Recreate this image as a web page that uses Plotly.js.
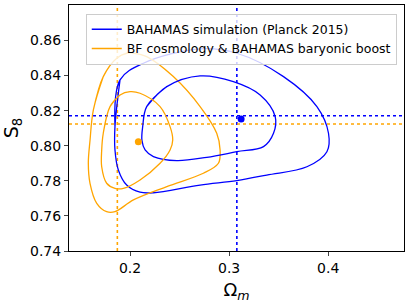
<!DOCTYPE html>
<html><head><meta charset="utf-8">
<script src="https://cdn.plot.ly/plotly-3.0.1.min.js"></script>
<style>html,body{margin:0;padding:0;background:#fff}#c{width:411px;height:307px}</style>
</head><body><div id="c"></div>
<script>
// Blue: BAHAMAS simulation (Planck 2015) — closed contours (68%, 95%)
const blueOuterX = [0.1848,0.1899,0.2135,0.2707,0.3078,0.3549,0.3886,0.4003,0.3987,0.3785,0.3380,0.3078,0.2707,0.2236,0.2101,0.1966,0.1882,0.1848];
const blueOuterY = [0.8109,0.8375,0.8470,0.8552,0.8527,0.8394,0.8223,0.8071,0.7966,0.7880,0.7833,0.7801,0.7776,0.7732,0.7735,0.7776,0.7862,0.7976];
const blueInnerX = [0.2168,0.2371,0.2707,0.3043,0.3313,0.3465,0.3448,0.3347,0.3078,0.2775,0.2472,0.2236,0.2152,0.2120,0.2128];
const blueInnerY = [0.8223,0.8337,0.8398,0.8365,0.8289,0.8166,0.8071,0.7995,0.7966,0.7934,0.7915,0.7938,0.7976,0.8030,0.8110];
// Orange: BF cosmology & BAHAMAS baryonic boost
const orangeOuterX = [0.1630,0.1730,0.1866,0.1966,0.2034,0.2168,0.2437,0.2707,0.2875,0.2909,0.2892,0.2740,0.2371,0.2034,0.1848,0.1764,0.1664,0.1596,0.1579,0.1596];
const orangeOuterY = [0.8204,0.8394,0.8499,0.8527,0.8527,0.8508,0.8394,0.8223,0.8071,0.7976,0.7900,0.7843,0.7767,0.7691,0.7624,0.7624,0.7672,0.7786,0.7900,0.8030];
const orangeInnerX = [0.1798,0.1899,0.2000,0.2101,0.2303,0.2404,0.2431,0.2404,0.2303,0.2101,0.1933,0.1848,0.1764,0.1714,0.1714,0.1730];
const orangeInnerY = [0.8223,0.8289,0.8308,0.8299,0.8223,0.8109,0.8033,0.7976,0.7900,0.7805,0.7757,0.7757,0.7786,0.7880,0.7976,0.8071];
// Best-fit points
const bluePoint = [0.3121, 0.8153];
const orangePoint = [0.2084, 0.8023];
// Reference (dotted) lines: [Omega_m, S8]
const blueRef = [0.3078, 0.8171];
const orangeRef = [0.1872, 0.8124];
const legendNames = ['BAHAMAS simulation (Planck 2015)', 'BF cosmology & BAHAMAS baryonic boost'];
const xTicks = [0.2, 0.3, 0.4];
const yTicks = [0.74, 0.76, 0.78, 0.80, 0.82, 0.84, 0.86];

const BLUE = '#0000ff', ORANGE = '#ffa500';
// close the ring by wrapping two points so the spline stays smooth at the seam
function ring(a) { return a.concat([a[0], a[1]]); }
function cont(x, y, c, name, show) {
  return {x: ring(x), y: ring(y), type: 'scatter', mode: 'lines', line: {color: c, width: 1.3, shape: 'spline', smoothing: 1}, name, showlegend: show, hoverinfo: 'skip'};
}
const data = [
  cont(blueOuterX, blueOuterY, BLUE, legendNames[0], true),
  cont(orangeOuterX, orangeOuterY, ORANGE, legendNames[1], true),
  cont(blueInnerX, blueInnerY, BLUE, legendNames[0], false),
  cont(orangeInnerX, orangeInnerY, ORANGE, legendNames[1], false),
  {x: [bluePoint[0]], y: [bluePoint[1]], type: 'scatter', mode: 'markers', marker: {color: BLUE, size: 7}, name: legendNames[0], showlegend: false},
  {x: [orangePoint[0]], y: [orangePoint[1]], type: 'scatter', mode: 'markers', marker: {color: ORANGE, size: 7}, name: legendNames[1], showlegend: false}
];
function vline(v, c) { return {type: 'line', xref: 'x', yref: 'paper', x0: v, x1: v, y0: 0, y1: 1, line: {color: c, width: 1.6, dash: 'dot'}, layer: 'below'}; }
function hline(v, c) { return {type: 'line', xref: 'paper', yref: 'y', x0: 0, x1: 1, y0: v, y1: v, line: {color: c, width: 1.6, dash: 'dot'}, layer: 'below'}; }
const layout = {
  width: 411, height: 307,
  margin: {l: 69, r: 7, t: 5, b: 56},
  paper_bgcolor: '#fff', plot_bgcolor: '#fff',
  font: {family: 'DejaVu Sans', color: '#000', size: 14},
  showlegend: true,
  legend: {x: 0.05, y: 0.965, xanchor: 'left', yanchor: 'top', bgcolor: 'rgba(255,255,255,0.8)', bordercolor: '#cccccc', borderwidth: 1, font: {size: 12.5, family: 'DejaVu Sans'}, tracegroupgap: 0, itemwidth: 30},
  xaxis: {range: [0.1384, 0.4765], tickvals: xTicks, ticktext: xTicks.map(v => v.toFixed(1)), ticks: 'outside', ticklen: 4, tickwidth: 1, showline: true, linecolor: '#000', linewidth: 1, mirror: true, showgrid: false, zeroline: false,
    title: {text: 'Ω<sub><i>m</i></sub>', font: {size: 18}, standoff: 8}},
  yaxis: {range: [0.74, 0.8802], tickvals: yTicks, ticktext: yTicks.map(v => v.toFixed(2)), ticks: 'outside', ticklen: 4, tickwidth: 1, showline: true, linecolor: '#000', linewidth: 1, mirror: true, showgrid: false, zeroline: false,
    title: {text: 'S<sub>8</sub>', font: {size: 19}, standoff: 9}},
  shapes: [vline(blueRef[0], BLUE), hline(blueRef[1], BLUE), vline(orangeRef[0], ORANGE), hline(orangeRef[1], ORANGE)]
};
Plotly.newPlot('c', data, layout, {displayModeBar: false, staticPlot: true});
</script></body></html>
